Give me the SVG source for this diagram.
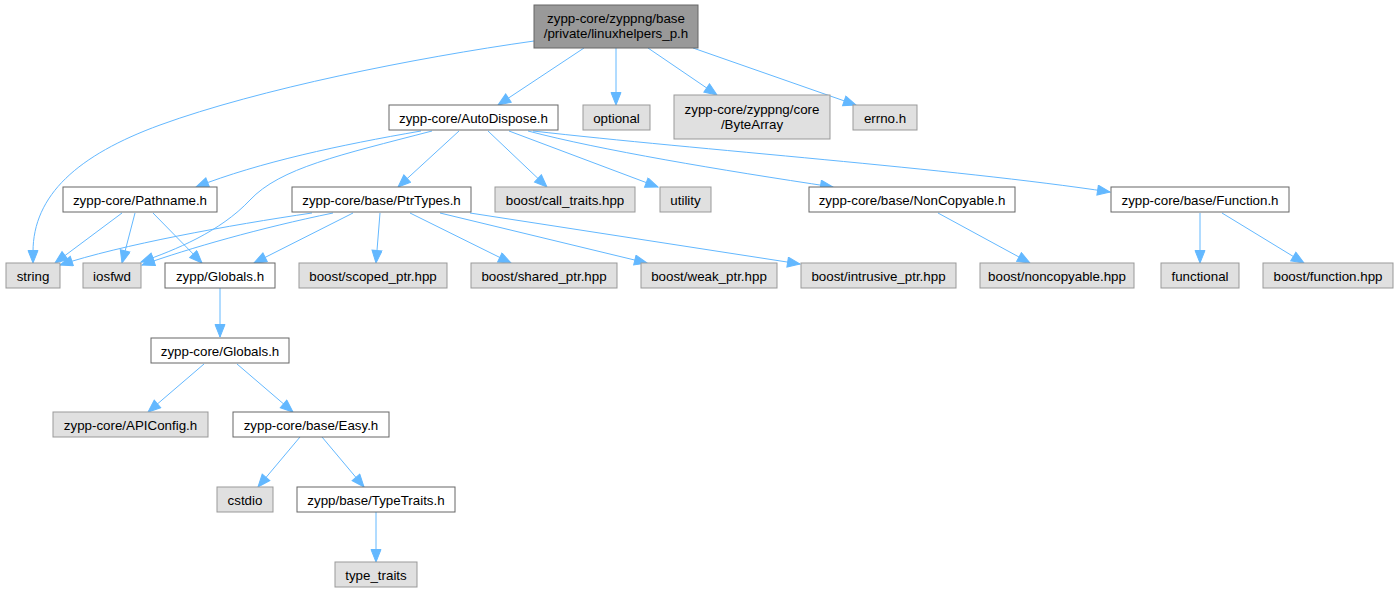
<svg xmlns="http://www.w3.org/2000/svg" width="1398" height="592" viewBox="0 0 1398 592">
<style>
.n rect{fill:#ffffff;stroke:#666666;stroke-width:1}
.g rect{fill:#e0e0e0;stroke:#999999;stroke-width:1}
.r rect{fill:#999999;stroke:#666666;stroke-width:1}
text{font-family:"Liberation Sans",Arial,sans-serif;font-size:13.33px;fill:#000000;text-anchor:middle}
#edges path{fill:none;stroke:#63b8ff;stroke-width:1;marker-end:url(#arr)}
</style>
<defs>
<marker id="arr" markerUnits="userSpaceOnUse" markerWidth="16" markerHeight="12" refX="13.5" refY="5.5" orient="auto">
<path d="M1,0.5 L13.5,5.5 L1,10.5 z" fill="#63b8ff" stroke="#63b8ff" stroke-width="1"/>
</marker>
</defs>
<rect width="1398" height="592" fill="#ffffff"/>
<g id="edges">
<path d="M534,41 C414,58 259,89 160,125 C78,155 33,195 33,252 L33,263"/>
<path d="M584,48 L498,105"/>
<path d="M616,48 L616,105"/>
<path d="M648,48 L717,95"/>
<path d="M693,48 L856,105"/>
<path d="M421,131 C340,145 260,162 196,187"/>
<path d="M432,131 C340,155 280,168 250,200 C220,232 175,250 141,262"/>
<path d="M459,131 L398,187"/>
<path d="M488,131 L547,187"/>
<path d="M509,131 L658,187"/>
<path d="M528,131 C600,150 720,170 833,187"/>
<path d="M533,131 C700,150 950,168 1110,192"/>
<path d="M312,213 C230,225 120,245 60,265"/>
<path d="M333,213 C260,228 190,248 142,265"/>
<path d="M353,213 L254,263"/>
<path d="M380,213 L376,263"/>
<path d="M410,213 L511,263"/>
<path d="M440,213 L647,263"/>
<path d="M470,213 L800,264"/>
<path d="M122,213 L55,263"/>
<path d="M135,213 L122,263"/>
<path d="M153,213 L202,263"/>
<path d="M938,213 L1030,263"/>
<path d="M1200,213 L1200,263"/>
<path d="M1222,213 L1304,263"/>
<path d="M220,288 L220,337"/>
<path d="M204,364 L148,412"/>
<path d="M237,364 L293,412"/>
<path d="M300,437 L258,487"/>
<path d="M322,437 L364,487"/>
<path d="M376,512 L376,562"/>
</g>
<g id="n_top" class="r"><rect x="534" y="5" width="164" height="43"/><text x="616" y="22.5">zypp-core/zyppng/base</text><text x="616" y="37.5">/private/linuxhelpers_p.h</text></g>
<g id="n_autodispose" class="n"><rect x="389" y="105" width="169" height="25"/><text x="473.5" y="122.5">zypp-core/AutoDispose.h</text></g>
<g id="n_optional" class="g"><rect x="583" y="105" width="67" height="25"/><text x="616.5" y="122.5">optional</text></g>
<g id="n_bytearray" class="g"><rect x="674" y="95" width="156" height="44"/><text x="752" y="113.5">zypp-core/zyppng/core</text><text x="752" y="128.5">/ByteArray</text></g>
<g id="n_errno" class="g"><rect x="853" y="105" width="64" height="25"/><text x="885" y="122.5">errno.h</text></g>
<g id="n_pathname" class="n"><rect x="63" y="187" width="154" height="25"/><text x="140" y="204.5">zypp-core/Pathname.h</text></g>
<g id="n_ptrtypes" class="n"><rect x="292" y="187" width="179" height="25"/><text x="381.5" y="204.5">zypp-core/base/PtrTypes.h</text></g>
<g id="n_calltraits" class="g"><rect x="495" y="187" width="140" height="25"/><text x="565" y="204.5">boost/call_traits.hpp</text></g>
<g id="n_utility" class="g"><rect x="660" y="187" width="51" height="25"/><text x="685.5" y="204.5">utility</text></g>
<g id="n_noncopyable" class="n"><rect x="809" y="187" width="206" height="25"/><text x="912" y="204.5">zypp-core/base/NonCopyable.h</text></g>
<g id="n_function" class="n"><rect x="1111" y="187" width="178" height="25"/><text x="1200" y="204.5">zypp-core/base/Function.h</text></g>
<g id="n_string" class="g"><rect x="6" y="263" width="54" height="25"/><text x="33" y="280.5">string</text></g>
<g id="n_iosfwd" class="g"><rect x="83" y="263" width="58" height="25"/><text x="112" y="280.5">iosfwd</text></g>
<g id="n_zyppglobals" class="n"><rect x="165" y="263" width="110" height="25"/><text x="220" y="280.5">zypp/Globals.h</text></g>
<g id="n_scoped" class="g"><rect x="299" y="263" width="148" height="25"/><text x="373" y="280.5">boost/scoped_ptr.hpp</text></g>
<g id="n_shared" class="g"><rect x="471" y="263" width="146" height="25"/><text x="544" y="280.5">boost/shared_ptr.hpp</text></g>
<g id="n_weak" class="g"><rect x="641" y="263" width="136" height="25"/><text x="709" y="280.5">boost/weak_ptr.hpp</text></g>
<g id="n_intrusive" class="g"><rect x="801" y="263" width="155" height="25"/><text x="878.5" y="280.5">boost/intrusive_ptr.hpp</text></g>
<g id="n_noncopyablehpp" class="g"><rect x="980" y="263" width="154" height="25"/><text x="1057" y="280.5">boost/noncopyable.hpp</text></g>
<g id="n_functional" class="g"><rect x="1161" y="263" width="78" height="25"/><text x="1200" y="280.5">functional</text></g>
<g id="n_functionhpp" class="g"><rect x="1263" y="263" width="130" height="25"/><text x="1328" y="280.5">boost/function.hpp</text></g>
<g id="n_coreglobals" class="n"><rect x="151" y="338" width="138" height="25"/><text x="220" y="355.5">zypp-core/Globals.h</text></g>
<g id="n_apiconfig" class="g"><rect x="53" y="412" width="155" height="25"/><text x="130.5" y="429.5">zypp-core/APIConfig.h</text></g>
<g id="n_easy" class="n"><rect x="233" y="412" width="156" height="25"/><text x="311" y="429.5">zypp-core/base/Easy.h</text></g>
<g id="n_cstdio" class="g"><rect x="217" y="487" width="56" height="25"/><text x="245" y="504.5">cstdio</text></g>
<g id="n_typetraitsh" class="n"><rect x="297" y="487" width="158" height="25"/><text x="376" y="504.5">zypp/base/TypeTraits.h</text></g>
<g id="n_typetraits" class="g"><rect x="335" y="562" width="82" height="25"/><text x="376" y="579.5">type_traits</text></g>
</svg>
